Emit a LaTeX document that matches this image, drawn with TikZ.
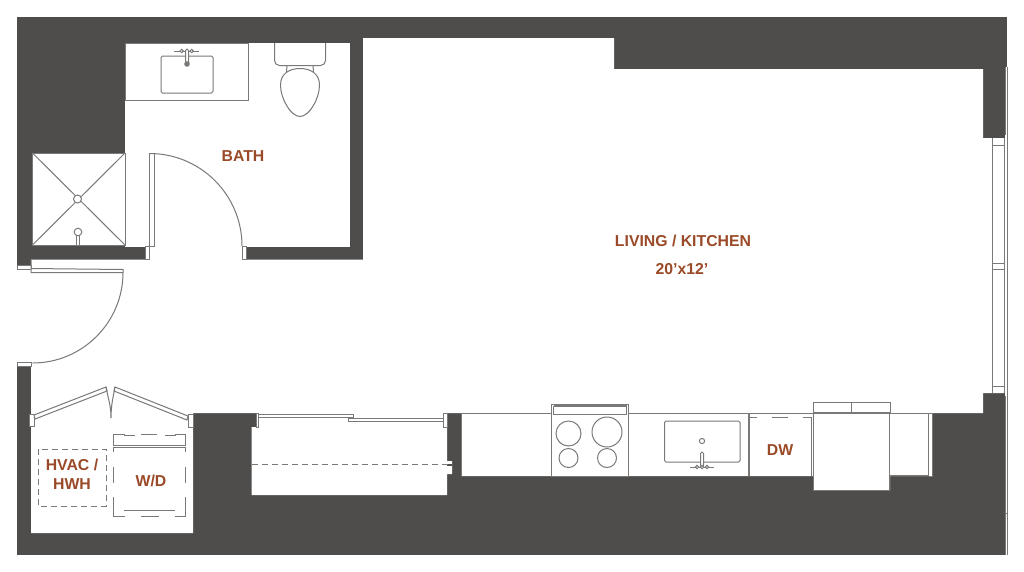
\documentclass[tikz,border=0pt]{standalone}
\usepackage{fontspec}
\setmainfont{Liberation Sans}
\definecolor{wallgrey}{HTML}{4F4D4B}
\definecolor{linegrey}{HTML}{7A7977}
\definecolor{roomtext}{HTML}{9A4A28}
\tikzset{
 wall/.style={fill=wallgrey,draw=none},
 floor/.style={fill=white,draw=none},
 fixture/.style={draw=linegrey,line width=1pt},
 frame/.style={fixture,fill=white},
 hidden/.style={fixture,dash pattern=on 6pt off 4pt},
 roomlabel/.style={text=roomtext,font=\fontsize{15.8}{18}\selectfont\bfseries,inner sep=0pt,align=center}
}
\begin{document}
\begin{tikzpicture}[x=1pt,y=-1pt]
\useasboundingbox (0,0) rectangle (1024,571);

\fill[wall] (17,17) rectangle (1007,555);
\fill[floor] (363,38) -- (614,38) -- (614,69) -- (983,69) -- (983,138) -- (1004,138) -- (1004,393) -- (983,393)
 -- (983,413) -- (932,413) -- (932,476) -- (890,476) -- (890,490) -- (813,490) -- (813,476) -- (461,476) -- (461,413)
 -- (447,413) -- (447,461) -- (452,461) -- (452,474) -- (447,474) -- (447,495) -- (251.5,495) -- (251.5,427) -- (256,427) -- (256,413)
 -- (193,413) -- (193,533) -- (31,533) -- (31,366) -- (17,366) -- (17,265) -- (31,265) -- (31,259.5) -- (363,259.5) -- cycle;
\fill[floor] (125,43) rectangle (350,246.5);
\fill[floor] (1005,67) rectangle (1007,555);
\fill[wall] (447,463.5) rectangle (451.5,466);

% bath
\draw[fixture] (125,43) rectangle (248,100);
\draw[fixture,rounded corners=1.5pt] (161,56) rectangle (213,93);
\draw[fixture] (174,51) -- (199,51);
\draw[frame,rounded corners=1.5pt] (185.5,49) rectangle (188.5,65);
\foreach \cx in {181.7,191.7} \draw[frame] (\cx,51) circle (1.7);
\fill[linegrey] (187,64) circle (2.8);
\draw[fixture,rounded corners=5pt] (274.5,43) -- (274.5,65.5) -- (325.5,65.5) -- (325.5,43);
\draw[fixture] (287,66) -- (286.5,72) (313,66) -- (313.5,72);
\draw[frame] (300,68.5) .. controls (311,68.5) and (319.5,74) .. (319.5,85) .. controls (319.5,99) and (309,116.5) .. (300,116.5)
 .. controls (291,116.5) and (280.5,99) .. (280.5,85) .. controls (280.5,74) and (289,68.5) .. (300,68.5) -- cycle;
\draw[frame] (32.5,153) rectangle (125,245);
\draw[fixture] (32.5,153) -- (125,245) (125,153) -- (32.5,245);
\draw[frame] (77.5,199) circle (4);
\draw[fixture] (76.5,245) -- (76.5,235) (79.5,245) -- (79.5,235);
\draw[frame] (78,232) circle (3.8);
\fill[white] (149.5,246) rectangle (242,260);
\draw[frame] (145,246.5) rectangle (149.5,259);
\draw[frame] (149.5,153.5) rectangle (154,246.5);
\draw[frame] (242,246.5) rectangle (246.5,259);
\draw[fixture] (149.5,153.5) arc[start angle=-90,end angle=0,radius=92.5];

% entry
\draw[frame] (17,265) rectangle (31,269);
\draw[frame] (31,259.5) -- (31,272.5) -- (123,272.5) -- (123,269.5) -- (31,268.5);
\draw[fixture] (123,272.5) arc[start angle=0,end angle=90,radius=90.5];
\draw[frame] (17,362) rectangle (31,366);

% closet and sliding doors
\draw[frame] (29,414) rectangle (34,426);
\draw[frame] (188,414) rectangle (193,427);
\draw[frame] (34,415) -- (106,387) -- (107,391) -- (35,419) -- cycle;
\draw[frame] (115,387) -- (188,416) -- (187,420) -- (114,391) -- cycle;
\draw[fixture] (106,387) .. controls (108,398) and (111,405) .. (111,418) .. controls (111,405) and (113,398) .. (115,387);
\draw[hidden] (38,449) rectangle (106,506);
\draw[fixture] (113,445.5) -- (185.5,445.5) (113,447.5) -- (185.5,447.5);
\draw[fixture] (113,445.5) -- (113,434) -- (124,434) -- (124,435) -- (135,435) (185.5,445.5) -- (185.5,434) -- (175,434) -- (175,435) -- (165,435) (141,434.5) -- (157,434.5);
\draw[fixture] (113,447.5) -- (113,452) (113,467) -- (113,483) (113,497) -- (113,516) -- (125,516) (141,516) -- (159,516)
 (175,516) -- (185.5,516) -- (185.5,497) (185.5,483) -- (185.5,467) (185.5,452) -- (185.5,447.5);
\draw[fixture] (124,510.5) -- (175,510.5);

\draw[frame] (256,413) rectangle (258.5,427);
\draw[frame] (258,414) rectangle (353,417.5);
\draw[frame] (348,418) rectangle (443,421.5);
\draw[frame] (443,413.5) rectangle (447,427);
\draw[hidden] (251.5,464.5) -- (451,464.5);

% kitchen
\draw[fixture] (461,413) -- (932,413) (461,413) -- (461,476);
\draw[frame] (551,404) rectangle (628,476);
\draw[frame] (553.5,406) rectangle (626.5,414);
\draw[fixture,line width=1.4pt] (553.5,406) -- (626.5,406);
\draw[fixture] (568.5,433.5) circle (12.5) (607,432) circle (15) (568.5,458) circle (9.5) (607,458) circle (9.5);
\draw[fixture,rounded corners=1.5pt] (664.5,421) rectangle (740,462);
\draw[fixture] (702,441) circle (2.6);
\draw[fixture] (690,467) -- (714,467);
\draw[frame,rounded corners=1.5pt] (700.5,467) rectangle (703.5,452);
\foreach \cx in {697,702,707} \draw[frame] (\cx,467) circle (1.7);
\draw[fixture,line width=1.5pt] (749,413) -- (749,476);
\draw[fixture] (811,417) -- (811,476) (813,413) -- (813,490) -- (889.5,490) -- (889.5,413);
\draw[fixture] (749,417) -- (757,417) (772,417) -- (788,417) (803,417) -- (811,417);
\draw[frame] (813,402) rectangle (851,412);
\draw[frame] (851,402) rectangle (890,412);
\draw[fixture] (889.5,475.5) -- (928.5,475.5) (928.5,413) -- (928.5,475.5) (932,413) -- (932,476) -- (928.5,476);

% window
\draw[fixture] (992,138) -- (992,393) (1004.5,138) -- (1004.5,393) (1007,67) -- (1007,555);
\draw[fixture,line width=.6pt] (1005.5,67) -- (1005.5,135) (1005.5,396) -- (1005.5,555) (1005,513) -- (1007,513);
\draw[fixture] (992,145) -- (1004.5,145) (992,263) -- (1004.5,263) (992,269) -- (1004.5,269) (992,386) -- (1004.5,386);

\node[roomlabel] (bath) at (243,156) {BATH};
\node[roomlabel] (living) at (683,241) {LIVING / KITCHEN};
\node[roomlabel] (size) at (682,269) {20’x12’};
\node[roomlabel,below=0pt] (hvac) at (72,459) {HVAC /\\[1pt]HWH};
\node[roomlabel] (wd) at (151,481) {W/D};
\node[roomlabel] (dw) at (780,450) {DW};
\end{tikzpicture}
\end{document}
